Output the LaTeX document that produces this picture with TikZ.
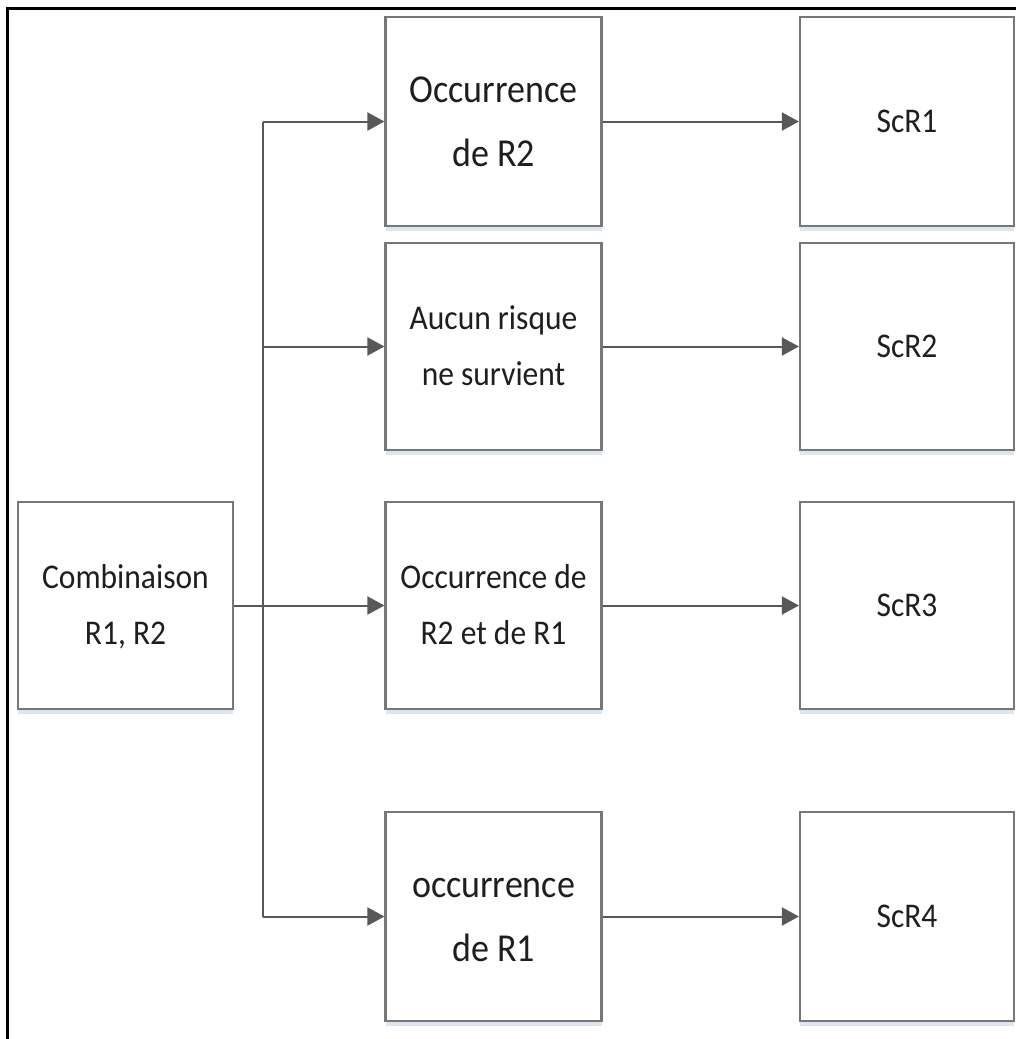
\documentclass[tikz,border=0pt]{standalone}
\usepackage{fontspec}
\usepackage{graphicx}
\setmainfont{Carlito}
\usetikzlibrary{arrows.meta,shadows}

\definecolor{boxgray}{HTML}{777777}
\definecolor{linegray}{HTML}{585858}
\definecolor{shadowblue}{HTML}{DCE6F0}
\definecolor{textgray}{HTML}{1E1E1E}

% box labels are set slightly tall and narrow
\newcommand{\tall}[1]{\scalebox{1}[1.1]{\begin{tabular}{@{}c@{}}#1\end{tabular}}}

\begin{document}
\begin{tikzpicture}[x=1pt,y=-1pt,
  box/.style={draw=boxgray, line width=2.2pt, fill=white, align=center,
    text=textgray, inner sep=0pt, minimum width=216pt, minimum height=208pt,
    drop shadow={shadow xshift=0pt, shadow yshift=-5pt, fill=shadowblue, opacity=1}},
  small/.style={font=\fontsize{31.5}{51}\selectfont},
  large/.style={font=\fontsize{36}{58}\selectfont},
  link/.style={draw=linegray, line width=2pt},
  arrow/.style={link, -{Triangle[length=17pt,width=18pt]}}]

\useasboundingbox (0,0) rectangle (1016,1039);
\fill[white] (0,0) rectangle (1016,1039);

% outer frame (left and top edges)
\draw[black, line width=3pt] (7,1045) -- (7,8) -- (1022,8);

% source box
\node[box, small, minimum width=215pt, minimum height=207pt] (comb) at (125.5,605.5) {\tall{Combinaison\\R1, R2}};

% intermediate events
\node[box, large, minimum height=209pt] (m1) at (493.5,121.5) {\tall{Occurrence\\de R2}};
\node[box, small, minimum height=207pt] (m2) at (493.5,346.5) {\tall{Aucun risque\\ne survient}};
\node[box, small, minimum height=207pt] (m3) at (493.5,605.5) {\tall{Occurrence de\\R2 et de R1}};
\node[box, large, minimum height=209pt] (m4) at (493.5,916.5) {\tall{occurrence\\de R1}};

% scenarios
\node[box, small, minimum width=214pt, minimum height=209pt] (s1) at (907,121.5) {\tall{ScR1}};
\node[box, small, minimum width=214pt, minimum height=207pt] (s2) at (907,346.5) {\tall{ScR2}};
\node[box, small, minimum width=214pt, minimum height=207pt] (s3) at (907,605.5) {\tall{ScR3}};
\node[box, small, minimum width=214pt, minimum height=209pt] (s4) at (907,916.5) {\tall{ScR4}};

% branching trunk
\coordinate (j1) at (263,121.5);
\coordinate (j2) at (263,346.5);
\coordinate (j4) at (263,916.5);
\draw[link] (j1) -- (j4);

\draw[arrow] (j1) -- (m1.west);
\draw[arrow] (j2) -- (m2.west);
\draw[arrow] (comb.east) -- (m3.west);
\draw[arrow] (j4) -- (m4.west);

\draw[arrow] (m1.east) -- (s1.west);
\draw[arrow] (m2.east) -- (s2.west);
\draw[arrow] (m3.east) -- (s3.west);
\draw[arrow] (m4.east) -- (s4.west);
\end{tikzpicture}
\end{document}
